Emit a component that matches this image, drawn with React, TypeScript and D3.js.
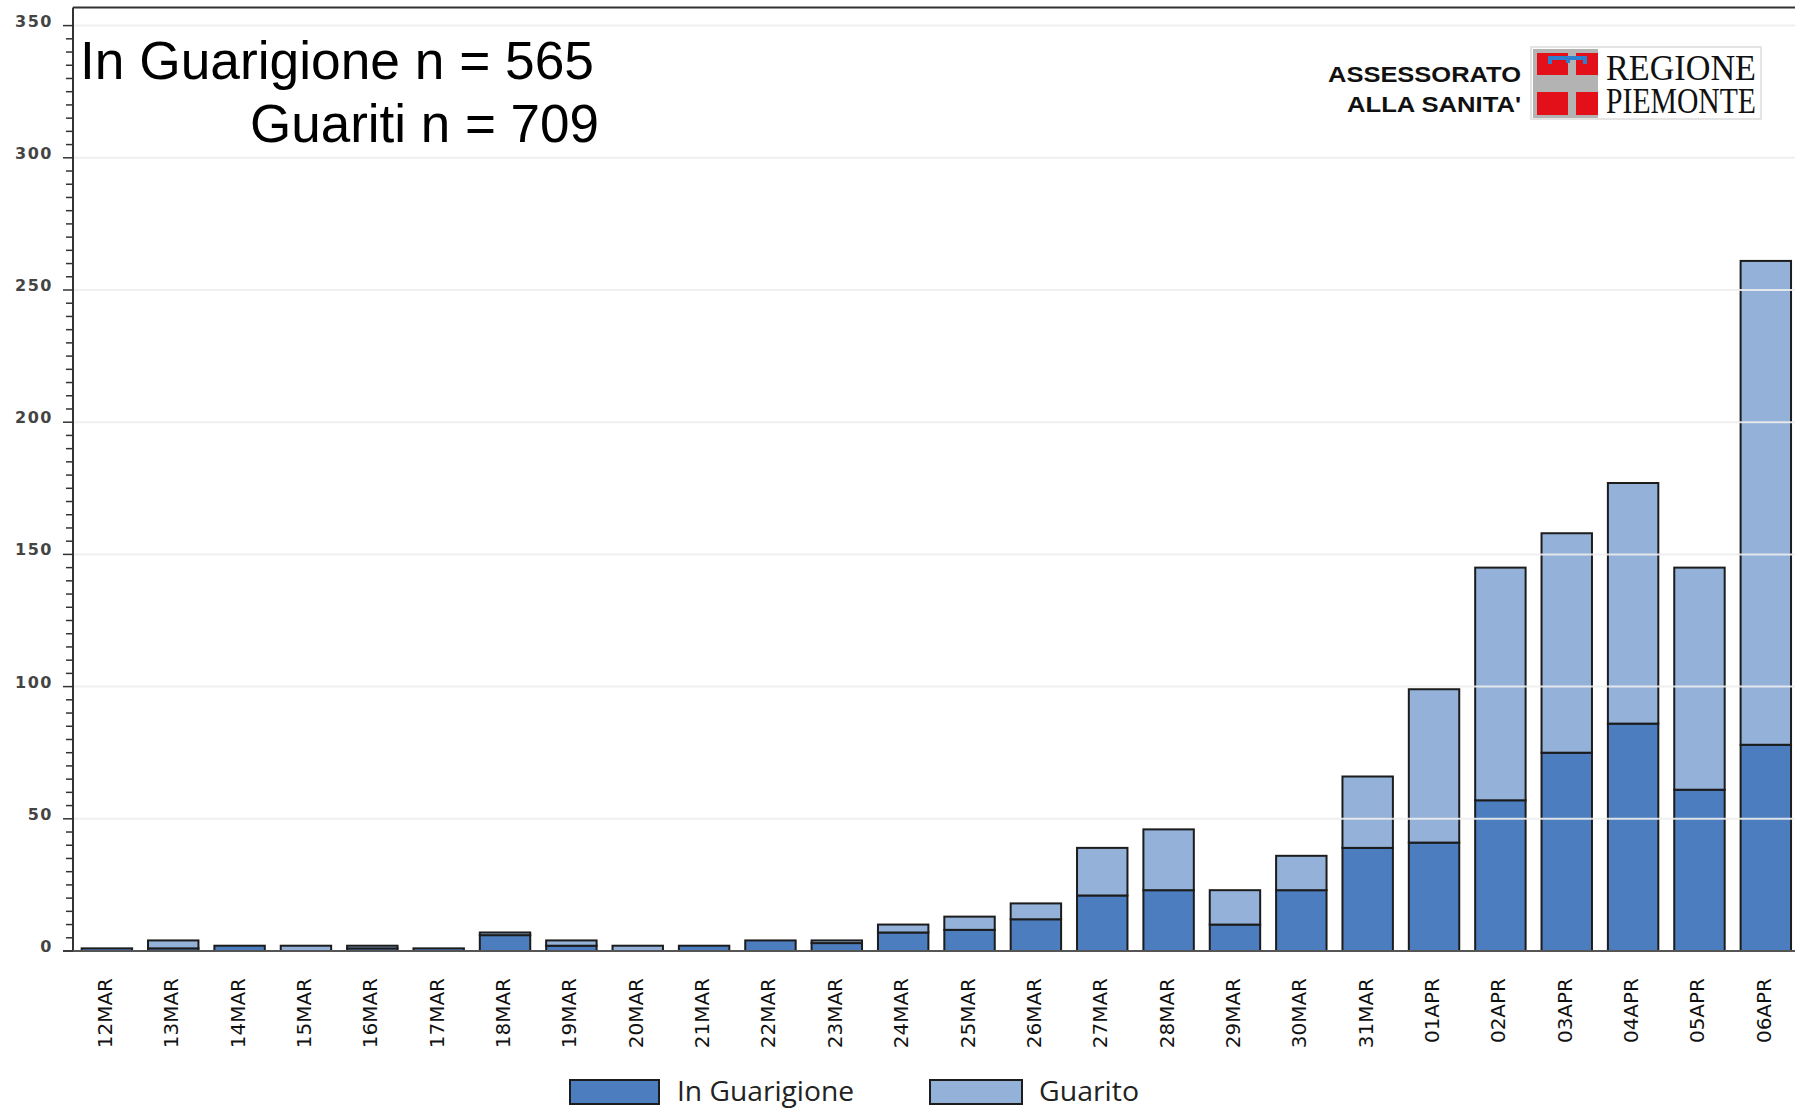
import React from 'react';
import * as d3 from 'd3';

// days on the x axis
const dates = [
  '12MAR', '13MAR', '14MAR', '15MAR', '16MAR', '17MAR', '18MAR', '19MAR', '20MAR',
  '21MAR', '22MAR', '23MAR', '24MAR', '25MAR', '26MAR', '27MAR', '28MAR', '29MAR',
  '30MAR', '31MAR', '01APR', '02APR', '03APR', '04APR', '05APR', '06APR',
];

// series values
const inGuarigione = [1, 1, 2, 0, 1, 1, 6, 2, 0, 2, 4, 3, 7, 8, 12, 21, 23, 10, 23, 39, 41, 57, 75, 86, 61, 78];
const guarito = [0, 3, 0, 2, 1, 0, 1, 2, 2, 0, 0, 1, 3, 5, 6, 18, 23, 13, 13, 27, 58, 88, 83, 91, 84, 183];

const yTicks = [0, 50, 100, 150, 200, 250, 300, 350];
const seriesKeys = ['inGuarigione', 'guarito'];
const seriesNames = ['In Guarigione', 'Guarito'];
const seriesColors = ['#4c7ebf', '#93b1d9'];

const W = 1795;
const H = 1108;

const App = () => {
  const rows = dates.map((d, i) => ({ date: d, inGuarigione: inGuarigione[i], guarito: guarito[i] }));

  const xScale = d3.scaleBand()
    .domain(dates)
    .range([73.7, 1799])
    .paddingInner(0.24)
    .paddingOuter(0.12);

  const yScale = d3.scaleLinear()
    .domain([0, 350])
    .range([951, 25.6]);

  const stacked = d3.stack().keys(seriesKeys)(rows as any);
  const minorTicks = yScale.ticks(70).filter(t => t % 50 !== 0);
  const x0 = 73;
  const yTop = yScale(356.8);
  const yBase = yScale(0);

  return (
    <svg width={W} height={H} style={{ position: 'absolute', left: 0, top: 0, background: '#fff' }}>
      {/* bars */}
      {stacked.map((s, si) => (
        <g key={seriesKeys[si]}>
          {s.map((d: any) => (
            d[1] - d[0] > 0 ? (
              <rect
                key={d.data.date}
                x={xScale(d.data.date)}
                y={yScale(d[1])}
                width={xScale.bandwidth()}
                height={yScale(d[0]) - yScale(d[1])}
                fill={seriesColors[si]}
                stroke="#1c1c1c"
                strokeWidth={2}
              />
            ) : null
          ))}
        </g>
      ))}

      {/* gridlines sit over the bars */}
      {yTicks.filter(t => t > 0).map(t => (
        <line key={t} x1={x0} x2={W} y1={yScale(t)} y2={yScale(t)} stroke="#ededed" strokeOpacity={0.9} strokeWidth={2} />
      ))}

      {/* frame */}
      <line x1={x0} x2={W} y1={yTop} y2={yTop} stroke="#333" strokeWidth={2} />
      <line x1={x0} x2={x0} y1={yTop} y2={yBase} stroke="#333" strokeWidth={2} />
      <line x1={x0 - 10} x2={W} y1={yBase} y2={yBase} stroke="#555" strokeWidth={2} />

      {/* y axis ticks */}
      {minorTicks.map(t => (
        <line key={'m' + t} x1={x0 - 7} x2={x0} y1={yScale(t)} y2={yScale(t)} stroke="#333" strokeWidth={1.5} />
      ))}
      {yTicks.map(t => (
        <g key={'t' + t}>
          <line x1={x0 - 10} x2={x0} y1={yScale(t)} y2={yScale(t)} stroke="#333" strokeWidth={1.5} />
          <text
            x={53}
            y={yScale(t) + 1}
            textAnchor="end"
            fontFamily="DejaVu Sans"
            fontWeight="bold"
            fontSize={16}
            letterSpacing={1.5}
            fill="#444"
          >
            {t}
          </text>
        </g>
      ))}

      {/* x axis labels */}
      {dates.map(d => (
        <text
          key={d}
          transform={`translate(${xScale(d)! + xScale.bandwidth() / 2 - 2}, 978) rotate(-90)`}
          textAnchor="end"
          dominantBaseline="central"
          fontFamily="DejaVu Sans"
          fontSize={20}
          fill="#111"
        >
          {d}
        </text>
      ))}

      {/* counts */}
      <text x={80} y={79} fontFamily="Liberation Sans, Arial" fontSize={53} textLength={514} lengthAdjust="spacingAndGlyphs" fill="#000">
        In Guarigione n = 565
      </text>
      <text x={250} y={142} fontFamily="Liberation Sans, Arial" fontSize={53} textLength={349} lengthAdjust="spacingAndGlyphs" fill="#000">
        Guariti n = 709
      </text>

      {/* logo */}
      <text x={1328} y={82} fontFamily="Liberation Sans, Arial" fontWeight="bold" fontSize={22} textLength={193} lengthAdjust="spacingAndGlyphs" fill="#111">
        ASSESSORATO
      </text>
      <text x={1347} y={112} fontFamily="Liberation Sans, Arial" fontWeight="bold" fontSize={22} textLength={174} lengthAdjust="spacingAndGlyphs" fill="#111">
        ALLA SANITA'
      </text>
      <rect x={1531} y={47} width={230} height={72} fill="#fff" stroke="#dcdcdc" strokeWidth={1.5} />
      <rect x={1533} y={49} width={65} height={69} fill="#b3b3b3" />
      <rect x={1537} y={53} width={31} height={22} fill="#e3101a" />
      <rect x={1576} y={53} width={22} height={22} fill="#e3101a" />
      <rect x={1537} y={92} width={31} height={23} fill="#e3101a" />
      <rect x={1576} y={92} width={22} height={23} fill="#e3101a" />
      <rect x={1548} y={56} width={39} height={4} fill="#2f7fcf" />
      <rect x={1548} y={56} width={4} height={8} fill="#2f7fcf" />
      <rect x={1566} y={56} width={4} height={7} fill="#2f7fcf" />
      <rect x={1583} y={56} width={4} height={8} fill="#2f7fcf" />
      <text x={1606} y={80} fontFamily="Liberation Serif, Times New Roman" fontSize={35} textLength={150} lengthAdjust="spacingAndGlyphs" fill="#111">
        REGIONE
      </text>
      <text x={1606} y={113} fontFamily="Liberation Serif, Times New Roman" fontSize={35} textLength={150} lengthAdjust="spacingAndGlyphs" fill="#111">
        PIEMONTE
      </text>

      {/* legend */}
      {seriesNames.map((name, i) => {
        const lx = [570, 930][i];
        return (
          <g key={name}>
            <rect x={lx} y={1080} width={[89, 92][i]} height={24} fill={seriesColors[i]} stroke="#1c1c1c" strokeWidth={2} />
            <text
              x={lx + [107, 109][i]}
              y={1101}
              fontFamily="Open Sans"
              fontSize={27}
              textLength={[177, 100][i]}
              lengthAdjust="spacingAndGlyphs"
              fill="#222"
            >
              {name}
            </text>
          </g>
        );
      })}
    </svg>
  );
};

export default App;
